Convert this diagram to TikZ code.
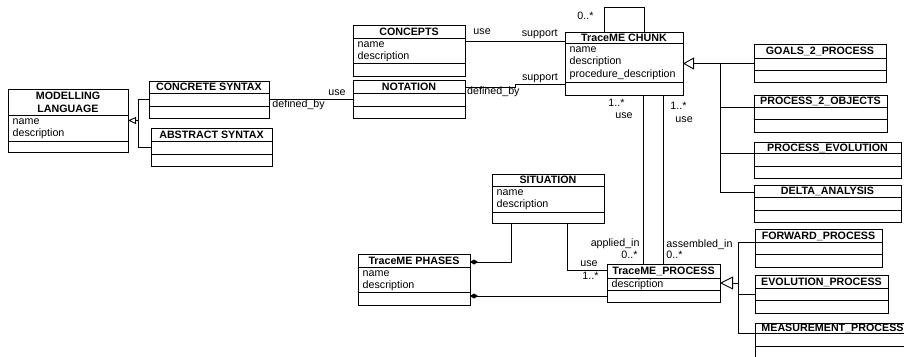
\documentclass[tikz,border=0pt]{standalone}
\usepackage{fontspec}
\setmainfont{Liberation Sans}
\usetikzlibrary{arrows.meta}

% underscore that does not change the height of a title line
\newcommand{\us}{\smash{\_}}

\tikzset{
  classbox/.style={draw, line width=0.9pt, inner sep=0pt, outer sep=0pt, anchor=north west},
  classtitle/.style={font=\fontsize{10.7}{13}\selectfont\bfseries, inner sep=0pt, align=center},
  attr/.style={font=\fontsize{10.7}{12.5}\selectfont, inner sep=0pt, anchor=base west},
  lbl/.style={font=\fontsize{10.7}{12.5}\selectfont, inner sep=0pt},
  link/.style={line width=0.9pt},
  gen/.style={link, -{Triangle[open, length=11pt, width=12pt]}},
  comp/.style={link, -{Diamond[length=8pt, width=5pt]}},
}

% class box: name, left, top, right, title line, attribute line, bottom, title, attributes
\newcommand{\umlclass}[9]{%
  \node[classbox, minimum width={(#4-#2)*1pt}, minimum height={(#7-#3)*1pt}] (#1) at (#2,#3) {};
  \draw[link] (#2,#5) -- (#4,#5) (#2,#6) -- (#4,#6);
  \node[classtitle] (#1-t) at ({(#2+#4)/2},{(#3+#5)/2}) {#8};
  \if\relax\detokenize{#9}\relax\else
    \foreach \a [count=\i] in {#9} {
      \node[attr] (#1-a\i) at ({#2+4.5},{#5+9+(\i-1)*12.5}) {\a};
    }
  \fi
}

\begin{document}
\begin{tikzpicture}[x=1pt,y=1pt,yscale=-1]
\path[fill=white] (0,0) rectangle (904,356);
\useasboundingbox (0,0) rectangle (904,356);
\clip (0,0) rectangle (904,356);

%Classes
\umlclass{mlang}{8}{89}{128}{115}{141}{152}{MODELLING\\LANGUAGE}{name,description}
\umlclass{concrete}{149}{81}{269}{93}{106}{118}{CONCRETE SYNTAX}{}
\umlclass{abstract}{151}{128}{272}{141}{154}{166}{ABSTRACT SYNTAX}{}
\umlclass{concepts}{353}{25}{465}{38}{63}{76}{CONCEPTS}{name,description}
\umlclass{notation}{353}{80}{465}{93}{106}{118}{NOTATION}{}
\umlclass{chunk}{565}{32}{683}{43}{82}{95}{TraceME CHUNK}{name,description,procedure\_description}
\umlclass{goals}{754}{44}{886}{58}{70}{82}{GOALS\us 2\us PROCESS}{}
\umlclass{ptwoobj}{754}{95}{887}{107}{119}{132}{PROCESS\us 2\us OBJECTS}{}
\umlclass{pevol}{754}{142}{901}{153}{166}{178}{PROCESS\us EVOLUTION}{}
\umlclass{delta}{754}{185}{901}{197}{210}{222}{DELTA\us ANALYSIS}{}
\umlclass{situation}{492}{174}{604}{186}{212}{223}{SITUATION}{name,description}
\umlclass{phases}{358}{254}{470}{267}{292}{305}{TraceME PHASES}{name,description}
\umlclass{process}{607}{264}{720}{278}{290}{302}{TraceME\us PROCESS}{description}
\umlclass{forward}{755}{229}{882}{242}{254}{267}{FORWARD\us PROCESS}{}
\umlclass{evolproc}{755}{275}{888}{288}{300}{313}{EVOLUTION\us PROCESS}{}
\umlclass{measure}{755}{323}{910}{333}{346}{362}{MEASUREMENT\us PROCESS}{}

%Attachment points (y grows downwards here)
\coordinate (mlgen) at ([xshift=10pt]mlang.east);
\coordinate (cptout) at ([yshift=16.5pt]concepts.north east);
\coordinate (notout) at ([yshift=7pt]notation.north east);
\coordinate (chunkin) at ([yshift=-11pt]chunk.south west);
\coordinate (chgen) at ([xshift=37pt]chunk.east);
\coordinate (usein) at ([xshift=-20.5pt]process.north);
\coordinate (sitA) at ([xshift=19pt]situation.south west);
\coordinate (phA) at ([yshift=8pt]phases.north east);
\coordinate (sitB) at ([xshift=-37pt]situation.south east);
\coordinate (prB) at ([yshift=6pt]process.north west);
\coordinate (prC) at ([yshift=-6pt]process.south west);
\coordinate (prgen) at ([xshift=18pt]process.east);

%Syntax generalization
\draw[link, -{Triangle[open, length=8pt, width=7pt]}] (mlgen) -- (mlang.east);
\draw[link] (mlgen) |- (concrete.west);
\draw[link] (mlgen) |- (abstract.west);

%Concrete syntax - notation
\draw[link] (concrete.east) -- (notation.west |- concrete.east)
  node[lbl, at end, anchor=base east, xshift=-7pt, yshift=4.5pt] (l-use1) {use}
  node[lbl, at start, anchor=base west, xshift=3pt, yshift=-8pt] (l-def1) {defined\_by};

%Concepts - chunk
\draw[link] (cptout) -- (chunk.west |- cptout)
  node[lbl, at start, anchor=base west, xshift=8pt, yshift=6.7pt] (l-use2) {use}
  node[lbl, at end, anchor=base east, xshift=-7pt, yshift=5.5pt] (l-sup1) {support};

%Notation - chunk
\draw[link] (notout) -- ++(50,0) |- (chunkin);
\node[lbl, anchor=base west, xshift=2pt, yshift=-7.5pt] (l-def2) at (notout) {defined\_by};
\node[lbl, anchor=base east, xshift=-7pt, yshift=4pt] (l-sup2) at (chunkin) {support};

%Chunk self association
\draw[link] ([xshift=-20pt]chunk.north) -- ++(0,-25)
  node[lbl, pos=0.5, anchor=base east, xshift=-10pt] (l-loop) {0..*}
  -| ([xshift=20pt]chunk.north);

%Chunk generalization
\draw[gen] (chgen) -- (chunk.east);
\draw[link] (chgen) -- (goals.west |- chgen);
\draw[link] (chgen) |- ([yshift=12pt]ptwoobj.north west);
\draw[link] (chgen) |- ([yshift=11pt]pevol.north west);
\draw[link] (chgen) |- ([yshift=7pt]delta.north west);

%Chunk - process
\draw[link] (usein |- chunk.south) -- (usein)
  node[lbl, at start, anchor=base east, xshift=-18pt, yshift=-11.8pt] (l-m1) {1..*}
  node[lbl, at start, anchor=base east, xshift=-10pt, yshift=-23.8pt] (l-use3) {use}
  node[lbl, at end, anchor=base east, xshift=-3pt, yshift=17.2pt] (l-app) {applied\_in}
  node[lbl, at end, anchor=base east, xshift=-5pt, yshift=5.2pt] (l-m2) {0..*};
\draw[link] (process.north |- chunk.south) -- (process.north)
  node[lbl, at start, anchor=base west, xshift=6.5pt, yshift=-14.8pt] (l-m3) {1..*}
  node[lbl, at start, anchor=base west, xshift=11.5pt, yshift=-27pt] (l-use4) {use}
  node[lbl, at end, anchor=base west, xshift=2.5pt, yshift=17pt] (l-asm) {assembled\_in}
  node[lbl, at end, anchor=base west, xshift=2.5pt, yshift=5.2pt] (l-m4) {0..*};

%Situation and phases
\draw[comp] (sitA) |- (phA);
\draw[link] (sitB) |- (prB)
  node[lbl, at end, anchor=base east, xshift=-9pt, yshift=3.2pt] (l-use5) {use}
  node[lbl, at end, anchor=base east, xshift=-8pt, yshift=-9.8pt] (l-m5) {1..*};
\draw[comp] (prC) -- (phases.east |- prC);

%Process generalization
\draw[link, -{Triangle[open, length=13pt, width=13pt]}] (prgen) -- (process.east);
\draw[link] (prgen) |- ([yshift=13pt]forward.north west);
\draw[link] (prgen) |- (evolproc.west);
\draw[link] (prgen) |- ([yshift=10pt]measure.north west);

\end{tikzpicture}
\end{document}
